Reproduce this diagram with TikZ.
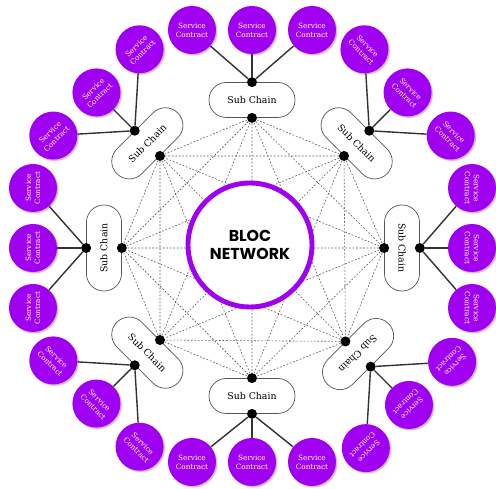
\documentclass[tikz,border=0pt]{standalone}
\usepackage{fontspec}
\setmainfont{DejaVu Serif}
\newfontfamily\headfont{Poppins}
\usepackage{tikz}
\usetikzlibrary{shadows, calc}
\definecolor{blocpurple}{HTML}{A000F0}
\definecolor{halo}{HTML}{DDB3FB}
\definecolor{pillgray}{HTML}{555555}

\begin{document}
\begin{tikzpicture}[
    x=0.03cm, y=0.03cm,
    hub/.style={circle, draw=blocpurple, line width=4.2pt, fill=white, minimum size=3.72cm, align=center, font=\headfont\bfseries\fontsize{13.5}{16}\selectfont},
    subchain/.style={rectangle, rounded corners=0.52cm, draw=pillgray, line width=0.6pt, fill=white, minimum width=2.58cm, minimum height=1.05cm, font=\fontsize{8}{9}\selectfont},
    contract/.style={circle, fill=blocpurple, text=white, minimum size=1.44cm, inner sep=0pt, align=center, font=\fontsize{6.2}{7.8}\selectfont, drop shadow={shadow xshift=1.2pt, shadow yshift=-1.2pt, fill=halo, opacity=1}},
    dot/.style={circle, fill=black, inner sep=0pt, minimum size=0.3cm},
    mesh/.style={draw=black!65, dash pattern=on 1.5pt off 1.5pt, line width=0.5pt},
    link/.style={draw=black!80, line width=1.2pt}
]
\useasboundingbox (-252,-241) rectangle (244,248);

% Sub chains, clockwise from the top
\node[subchain] (scN) at (90:148) {Sub Chain};
\node[subchain, rotate=-45] (scNE) at (45:148) {Sub Chain};
\node[subchain, rotate=-90] (scE) at (0:150) {Sub Chain};
\node[subchain, rotate=-135] (scSE) at (-45:150) {Sub Chain};
\node[subchain] (scS) at (-90:148) {Sub Chain};
\node[subchain, rotate=-45] (scSW) at (-135:148) {Sub Chain};
\node[subchain, rotate=90] (scW) at (180:148) {Sub Chain};
\node[subchain, rotate=45] (scNW) at (135:148) {Sub Chain};

% Service contracts, three in a row per sub chain
\node[contract] (ctN1) at ($(90:218)+(180:60)$) {Service\\Contract};
\node[contract] (ctN2) at (90:218) {Service\\Contract};
\node[contract] (ctN3) at ($(90:218)+(0:60)$) {Service\\Contract};
\node[contract, rotate=-45] (ctNE1) at ($(45:220)+(135:61)$) {Service\\Contract};
\node[contract, rotate=-45] (ctNE2) at (45:220) {Service\\Contract};
\node[contract, rotate=-45] (ctNE3) at ($(45:220)+(-45:61)$) {Service\\Contract};
\node[contract, rotate=-90] (ctE1) at ($(0:220)+(90:60)$) {Service\\Contract};
\node[contract, rotate=-90] (ctE2) at (0:220) {Service\\Contract};
\node[contract, rotate=-90] (ctE3) at ($(0:220)+(-90:60)$) {Service\\Contract};
\node[contract, rotate=-135] (ctSE1) at ($(-45:222)+(45:61)$) {Service\\Contract};
\node[contract, rotate=-135] (ctSE2) at (-45:222) {Service\\Contract};
\node[contract, rotate=-135] (ctSE3) at ($(-45:222)+(-135:61)$) {Service\\Contract};
\node[contract] (ctS1) at ($(-90:214)+(0:60)$) {Service\\Contract};
\node[contract] (ctS2) at (-90:214) {Service\\Contract};
\node[contract] (ctS3) at ($(-90:214)+(180:60)$) {Service\\Contract};
\node[contract, rotate=-45] (ctSW1) at ($(-135:220)+(-45:61)$) {Service\\Contract};
\node[contract, rotate=-45] (ctSW2) at (-135:220) {Service\\Contract};
\node[contract, rotate=-45] (ctSW3) at ($(-135:220)+(135:61)$) {Service\\Contract};
\node[contract, rotate=90] (ctW1) at ($(180:219)+(90:60)$) {Service\\Contract};
\node[contract, rotate=90] (ctW2) at (180:219) {Service\\Contract};
\node[contract, rotate=90] (ctW3) at ($(180:219)+(-90:60)$) {Service\\Contract};
\node[contract, rotate=45] (ctNW1) at ($(135:220)+(-135:61)$) {Service\\Contract};
\node[contract, rotate=45] (ctNW2) at (135:220) {Service\\Contract};
\node[contract, rotate=45] (ctNW3) at ($(135:220)+(45:61)$) {Service\\Contract};

% Joints on the sub chains
\node[dot] (inN) at (scN.south) {};
\node[dot] (outN) at (scN.north) {};
\node[dot] (inNE) at (scNE.south) {};
\node[dot] (outNE) at (scNE.north) {};
\node[dot] (inE) at (scE.south) {};
\node[dot] (outE) at (scE.north) {};
\node[dot] (inSE) at (scSE.south) {};
\node[dot] (outSE) at (scSE.north) {};
\node[dot] (inS) at (scS.north) {};
\node[dot] (outS) at (scS.south) {};
\node[dot] (inSW) at (scSW.north) {};
\node[dot] (outSW) at (scSW.south) {};
\node[dot] (inW) at (scW.south) {};
\node[dot] (outW) at (scW.north) {};
\node[dot] (inNW) at (scNW.south) {};
\node[dot] (outNW) at (scNW.north) {};

% Links to the contracts
\draw[link] (outN) -- (ctN1);
\draw[link] (outN) -- (ctN2);
\draw[link] (outN) -- (ctN3);
\draw[link] (outNE) -- (ctNE1);
\draw[link] (outNE) -- (ctNE2);
\draw[link] (outNE) -- (ctNE3);
\draw[link] (outE) -- (ctE1);
\draw[link] (outE) -- (ctE2);
\draw[link] (outE) -- (ctE3);
\draw[link] (outSE) -- (ctSE1);
\draw[link] (outSE) -- (ctSE2);
\draw[link] (outSE) -- (ctSE3);
\draw[link] (outS) -- (ctS1);
\draw[link] (outS) -- (ctS2);
\draw[link] (outS) -- (ctS3);
\draw[link] (outSW) -- (ctSW1);
\draw[link] (outSW) -- (ctSW2);
\draw[link] (outSW) -- (ctSW3);
\draw[link] (outW) -- (ctW1);
\draw[link] (outW) -- (ctW2);
\draw[link] (outW) -- (ctW3);
\draw[link] (outNW) -- (ctNW1);
\draw[link] (outNW) -- (ctNW2);
\draw[link] (outNW) -- (ctNW3);

% Mesh between the sub chains
\draw[mesh] (inN) -- (inNE) (inN) -- (inE) (inN) -- (inSE) (inN) -- (inS)
    (inN) -- (inSW) (inN) -- (inW) (inN) -- (inNW);
\draw[mesh] (inNE) -- (inE) (inNE) -- (inSE) (inNE) -- (inS) (inNE) -- (inSW)
    (inNE) -- (inW) (inNE) -- (inNW);
\draw[mesh] (inE) -- (inSE) (inE) -- (inS) (inE) -- (inSW) (inE) -- (inW)
    (inE) -- (inNW);
\draw[mesh] (inSE) -- (inS) (inSE) -- (inSW) (inSE) -- (inW) (inSE) -- (inNW);
\draw[mesh] (inS) -- (inSW) (inS) -- (inW) (inS) -- (inNW);
\draw[mesh] (inSW) -- (inW) (inSW) -- (inNW);
\draw[mesh] (inW) -- (inNW);

% Hub
\node[hub] (bloc) at (-2,3) {BLOC\\NETWORK};

\end{tikzpicture}
\end{document}
